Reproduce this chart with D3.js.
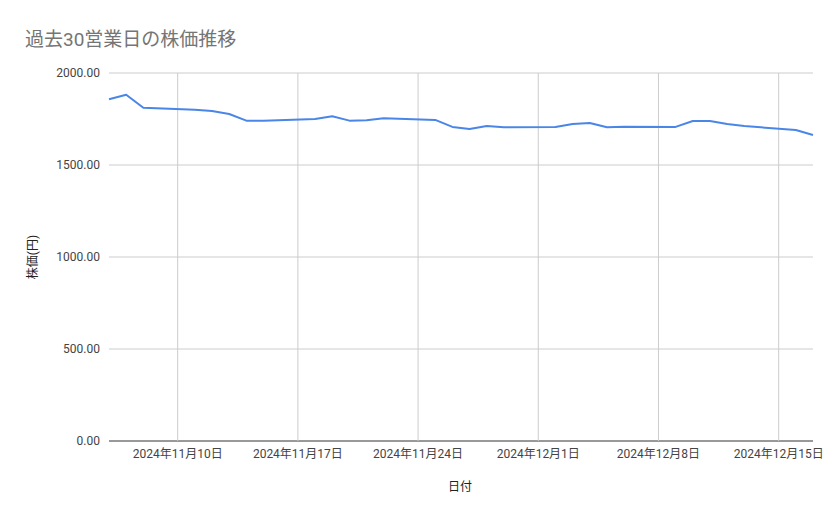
<!DOCTYPE html>
<html><head><meta charset="utf-8">
<script src="https://cdn.jsdelivr.net/npm/d3@7"></script>
<style>body{margin:0;background:#fff;font-family:Roboto,"Noto Sans CJK JP",sans-serif}</style>
</head><body><svg id="c" width="839" height="519"></svg>
<script>
const dates = ["2024-11-06","2024-11-07","2024-11-08","2024-11-11","2024-11-12","2024-11-13","2024-11-14","2024-11-15",
  "2024-11-18","2024-11-19","2024-11-20","2024-11-21","2024-11-22","2024-11-25","2024-11-26","2024-11-27","2024-11-28","2024-11-29",
  "2024-12-02","2024-12-03","2024-12-04","2024-12-05","2024-12-06","2024-12-09","2024-12-10","2024-12-11","2024-12-12","2024-12-13",
  "2024-12-16","2024-12-17"]
const prices = [1857,1882,1811,1800,1793,1777,1741,1741,1750,1765,1741,1743,1754,1745,1707,1696,1712,1705,
  1707,1723,1728,1705,1708,1707,1739,1739,1723,1712,1690,1663]
const yTicks = [0,500,1000,1500,2000]
const xTicks = ["2024-11-10","2024-11-17","2024-11-24","2024-12-01","2024-12-08","2024-12-15"]

const parse = d3.timeParse("%Y-%m-%d")
const data = dates.map((d,i) => ({ date: parse(d), v: prices[i] }))
const svg = d3.select("#c")
const L = 109, R = 813, T = 73, B = 441

const x = d3.scaleTime().domain([parse("2024-11-06"), parse("2024-12-17")]).range([L, R])
const y = d3.scaleLinear().domain([0, 2000]).range([B, T])

// gridlines
svg.append("g").selectAll("line").data(yTicks).join("line")
  .attr("x1", L).attr("x2", R).attr("y1", d => y(d)).attr("y2", d => y(d))
  .attr("stroke", d => d === 0 ? "#333" : "#ccc").attr("stroke-width", 1)
svg.append("g").selectAll("line").data(xTicks).join("line")
  .attr("x1", d => x(parse(d))).attr("x2", d => x(parse(d))).attr("y1", T).attr("y2", B)
  .attr("stroke", "#ccc")

svg.append("g").selectAll("text").data(yTicks).join("text")
  .attr("x", 100).attr("y", d => y(d) + 4).attr("text-anchor", "end")
  .attr("font-size", 12).attr("fill", "#444").text(d => d.toFixed(2))
svg.append("g").selectAll("text").data(xTicks).join("text")
  .attr("x", d => x(parse(d))).attr("y", 458).attr("text-anchor", "middle")
  .attr("font-size", 12).attr("fill", "#444")
  .text(d => { const t = parse(d); return `${t.getFullYear()}年${t.getMonth()+1}月${t.getDate()}日` })

svg.append("path").datum(data)
  .attr("fill", "none").attr("stroke", "#4a86e8").attr("stroke-width", 2).attr("stroke-linejoin", "round")
  .attr("d", d3.line().x(d => x(d.date)).y(d => y(d.v)))

svg.append("text").attr("x", 25).attr("y", 46).attr("font-size", 19).attr("fill", "#757575").text("過去30営業日の株価推移")
svg.append("text").attr("x", 460).attr("y", 491).attr("text-anchor", "middle").attr("font-size", 12).attr("fill", "#222").text("日付")
svg.append("text").attr("transform", "translate(37,257) rotate(-90)").attr("text-anchor", "middle")
  .attr("font-size", 12).attr("fill", "#222").text("株価(円)")
</script></body></html>
